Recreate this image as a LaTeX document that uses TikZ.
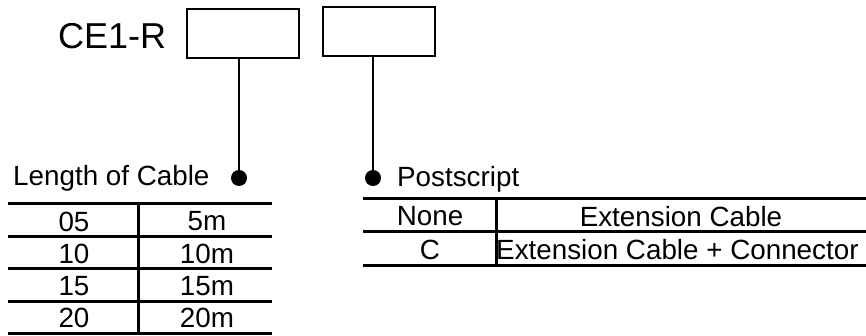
\documentclass[tikz,border=0pt]{standalone}
\usepackage{fontspec}
\setmainfont{Liberation Sans}

\begin{document}
\begin{tikzpicture}[x=1pt,y=-1pt,
big/.style={font=\fontsize{36}{40}\selectfont,inner sep=0pt},
txt/.style={font=\fontsize{27.8}{30}\selectfont,inner sep=0pt},
codebox/.style={draw,line width=2.2pt,minimum width=112pt,minimum height=49pt,inner sep=0pt},
dot/.style={circle,fill,inner sep=0pt,minimum size=16pt},
rule/.style={line width=3pt}]
\useasboundingbox (0,0) rectangle (866,336);
% model code
\node[big,anchor=base west] (prefix) at (58,49) {CE1-R};
\node[codebox] (lenbox) at (243,33.5) {};
\node[codebox] (postbox) at (379,31.5) {};
\node[dot] (lendot) at (239,178) {};
\node[dot] (postdot) at (373,178) {};
\draw[line width=2.2pt] (lendot |- lenbox.south) -- (lendot);
\draw[line width=2.2pt] (postdot |- postbox.south) -- (postdot);
\node[txt,anchor=base west] (lenlabel) at (13,186) {Length of Cable};
\node[txt,anchor=base west] (postlabel) at (397,187) {Postscript};
% length of cable
\foreach \y in {204,237,269,301,333} \draw[rule] (8,\y) -- (272,\y);
\draw[rule] (138,204) -- (138,333);
\foreach \code/\len/\y [count=\i] in {05/5m/221.5,10/10m/254,15/15m/286,20/20m/318}{
  \node[txt] (code\i) at (74,\y) {\code};
  \node[txt] (len\i) at (207,\y) {\len};
}
% postscript
\foreach \y in {199,232,266} \draw[rule] (363,\y) -- (866,\y);
\draw[rule] (496,199) -- (496,266);
\node[txt] (none) at (430,216.5) {None};
\node[txt] (nonetext) at (681,216.5) {Extension Cable};
\node[txt] (conn) at (430,250) {C};
\node[txt,anchor=west] (conntext) at (496,250) {Extension Cable + Connector};
\end{tikzpicture}
\end{document}
